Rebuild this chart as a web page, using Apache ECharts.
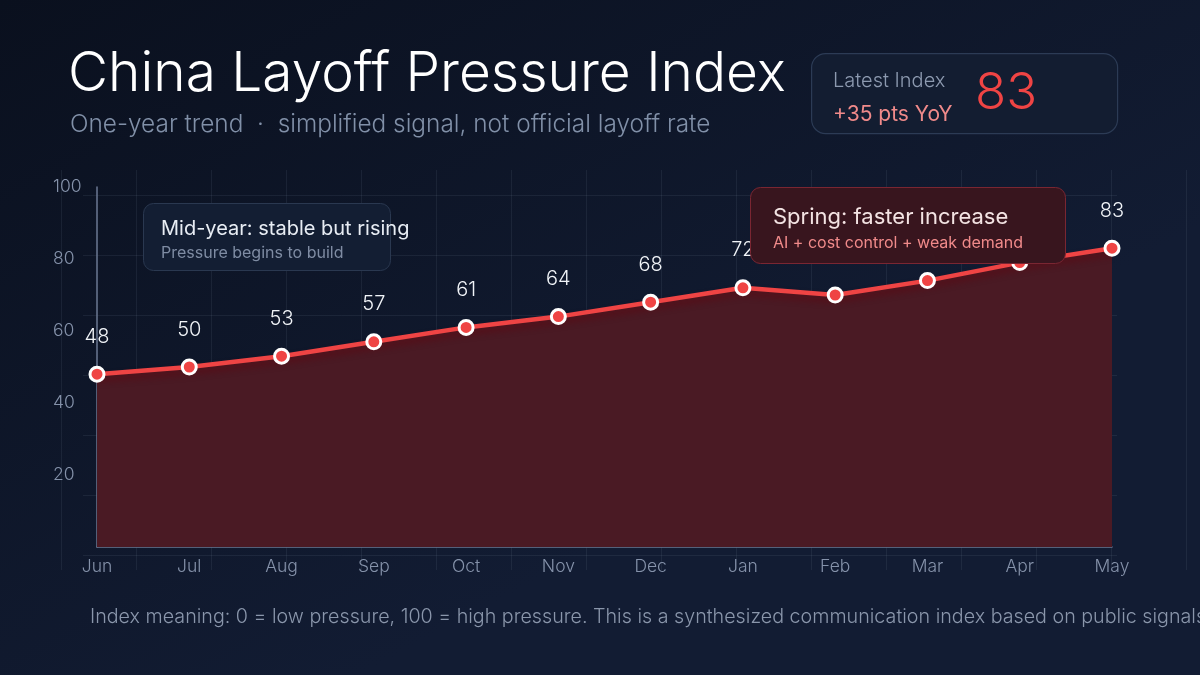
<!DOCTYPE html>
<html>
<head>
<meta charset="utf-8">
<script src="https://cdn.jsdelivr.net/npm/echarts@6/dist/echarts.min.js"></script>
<style>
html,body{margin:0;padding:0;background:#0b1120;}
#chart{width:1200px;height:675px;}
</style>
</head>
<body>
<div id="chart"></div>
<script>
const months = ['Jun','Jul','Aug','Sep','Oct','Nov','Dec','Jan','Feb','Mar','Apr','May'];
const pressureIndex = [48, 50, 53, 57, 61, 64, 68, 72, 70, 74, 79, 83];
const titleText = 'China Layoff Pressure Index';
const subtitleText = 'One-year trend  ·  simplified signal, not official layoff rate';
const kpiLabel = 'Latest Index';
const kpiChange = '+35 pts YoY';
const kpiValue = '83';
const noteMid = ['Mid-year: stable but rising', 'Pressure begins to build'];
const noteSpring = ['Spring: faster increase', 'AI + cost control + weak demand'];
const footnote = 'Index meaning: 0 = low pressure, 100 = high pressure. This is a synthesized communication index based on public signals.';

const FONT = 'Inter, "Noto Sans", sans-serif';
const chart = echarts.init(document.getElementById('chart'), null, {renderer: 'canvas'});
const gridLine = {show: true, lineStyle: {color: 'rgba(148,163,184,0.10)', width: 1}};

chart.setOption({
  backgroundColor: {
    type: 'linear', x: 0, y: 0, x2: 0.3, y2: 1,
    colorStops: [{offset: 0, color: '#0a101e'}, {offset: 1, color: '#121c33'}]
  },
  textStyle: {fontFamily: FONT},
  animation: false,
  grid: [
    {left: 97, right: 88, top: 187, bottom: 128, outerBoundsMode: 'none', containLabel: false},
    {left: 61, top: 170, width: 1125, height: 400, outerBoundsMode: 'none', containLabel: false},
    {left: 83, top: 195, width: 1034, height: 360, outerBoundsMode: 'none', containLabel: false}
  ],
  xAxis: [
    {
      type: 'category', data: months, boundaryGap: false, gridIndex: 0,
      axisLine: {show: true, lineStyle: {color: '#6b7893', width: 1.5}},
      axisTick: {show: false},
      axisLabel: {color: '#8592aa', fontSize: 17.5, margin: 11, fontFamily: FONT, fontWeight: 300},
      splitLine: {show: false}
    },
    {
      type: 'value', gridIndex: 1, min: 0, max: 15, interval: 1,
      axisLine: {show: false}, axisTick: {show: false}, axisLabel: {show: false},
      splitLine: gridLine
    },
    {type: 'value', gridIndex: 2, show: false, min: 0, max: 1}
  ],
  yAxis: [
    {
      type: 'value', min: 0, max: 100, interval: 20, gridIndex: 0,
      axisLine: {show: true, lineStyle: {color: '#6b7893', width: 1.5}},
      axisTick: {show: false},
      axisLabel: {color: '#8592aa', fontSize: 17.5, margin: 44, align: 'left', showMinLabel: false, fontFamily: FONT, fontWeight: 300},
      splitLine: {show: false}
    },
    {type: 'value', gridIndex: 1, show: false, min: 0, max: 1},
    {
      type: 'value', gridIndex: 2, min: 0, max: 6, interval: 1,
      axisLine: {show: false}, axisTick: {show: false}, axisLabel: {show: false},
      splitLine: gridLine
    }
  ],
  series: [{
    type: 'line',
    data: pressureIndex,
    xAxisIndex: 0, yAxisIndex: 0,
    z: 5,
    symbol: 'circle',
    symbolSize: 14,
    itemStyle: {color: '#ef4444', borderColor: '#ffffff', borderWidth: 3},
    lineStyle: {color: '#ef4444', width: 4.5, shadowColor: 'rgba(90,10,20,0.8)', shadowBlur: 6, shadowOffsetY: 5},
    areaStyle: {color: '#4a1a24', opacity: 1},
    label: {show: true, position: 'top', distance: 19, color: '#f1f4f8', fontSize: 20, fontFamily: FONT, fontWeight: 300}
  }],
  graphic: [
    {type: 'text', left: 68, top: 47, z: 100, style: {text: titleText, fill: '#ffffff', font: '300 55px ' + FONT}},
    {type: 'text', left: 70, top: 113, z: 100, style: {text: subtitleText, fill: '#8190a8', font: '300 24.4px ' + FONT}},
    {type: 'rect', left: 811, top: 53, z: 100, shape: {width: 306, height: 80, r: 14},
      style: {fill: '#131d31', stroke: '#2c3b55', lineWidth: 1.2}},
    {type: 'text', left: 833, top: 71, z: 101, style: {text: kpiLabel, fill: '#8d9ab0', font: '300 20px ' + FONT}},
    {type: 'text', left: 833, top: 104, z: 101, style: {text: kpiChange, fill: '#f08a8a', font: '400 21px ' + FONT}},
    {type: 'text', left: 975, top: 68, z: 101, style: {text: kpiValue, fill: '#ef4444', font: '300 51px ' + FONT}},
    {type: 'rect', left: 143, top: 203, z: 100, shape: {width: 247, height: 67, r: 10},
      style: {fill: '#131e33', stroke: '#2a3850', lineWidth: 1}},
    {type: 'text', left: 161, top: 219, z: 101, style: {text: noteMid[0], fill: '#e8edf4', font: '400 20px ' + FONT}},
    {type: 'text', left: 161, top: 245, z: 101, style: {text: noteMid[1], fill: '#7f8ca3', font: '400 16px ' + FONT}},
    {type: 'rect', left: 750, top: 187, z: 100, shape: {width: 315, height: 76, r: 10},
      style: {fill: '#38151e', stroke: '#7a2632', lineWidth: 1}},
    {type: 'text', left: 773, top: 206, z: 101, style: {text: noteSpring[0], fill: '#f3e3e3', font: '400 22px ' + FONT}},
    {type: 'text', left: 773, top: 235, z: 101, style: {text: noteSpring[1], fill: '#f08a8a', font: '400 16px ' + FONT}},
    {type: 'text', left: 90, top: 607, z: 100, style: {text: footnote, fill: '#8a96ab', font: '300 19.7px ' + FONT}}
  ]
});
</script>
</body>
</html>
